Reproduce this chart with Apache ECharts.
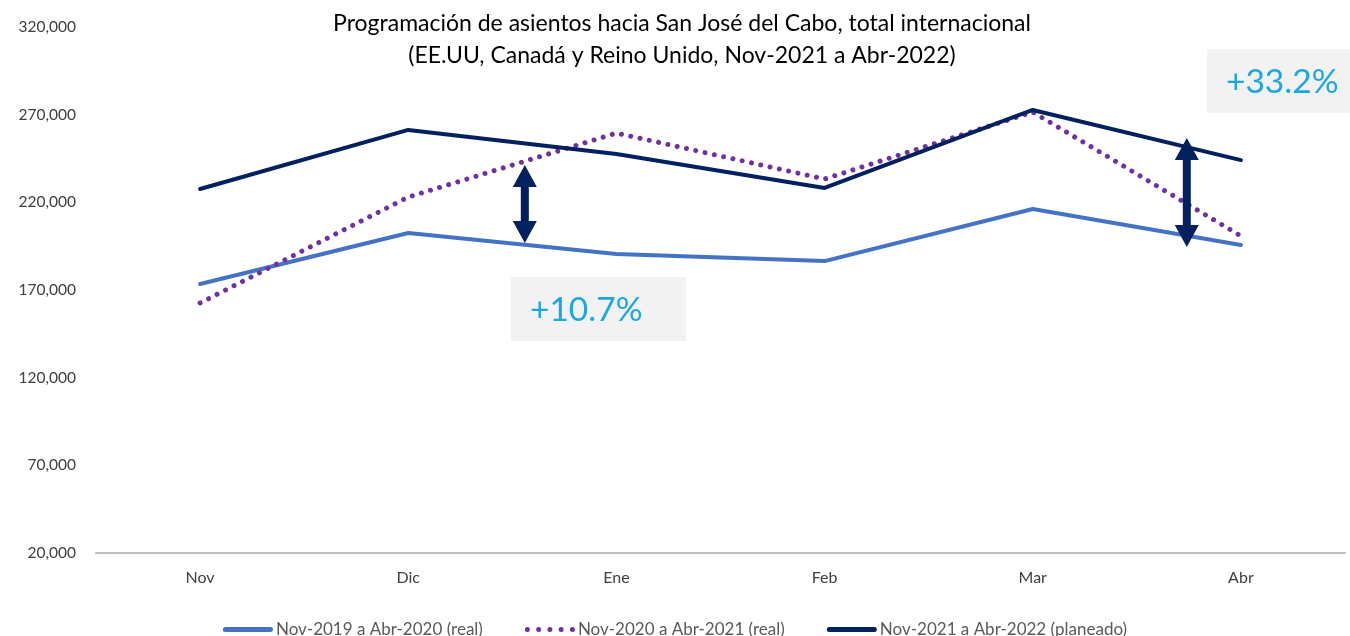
<!DOCTYPE html>
<html>
<head>
<meta charset="utf-8">
<script src="https://cdn.jsdelivr.net/npm/echarts@6/dist/echarts.min.js"></script>
<style>
html,body{margin:0;padding:0;background:#fff;}
#chart{width:1350px;height:636px;}
</style>
</head>
<body>
<div id="chart"></div>
<script>
// Months of the season
const months = ['Nov', 'Dic', 'Ene', 'Feb', 'Mar', 'Abr'];

// Seat programming per month for each season
const season2019 = [173400, 202500, 190500, 186500, 216200, 195700];
const season2020 = [162600, 223000, 259500, 233300, 271500, 200800];
const season2021 = [227600, 261300, 247600, 228200, 272700, 244100];

const seriesNames = [
  'Nov-2019 a Abr-2020 (real)',
  'Nov-2020 a Abr-2021 (real)',
  'Nov-2021 a Abr-2022 (planeado)'
];

// Growth callouts: position along the category axis (fractional index),
// arrow ends in seat values, and the label shown
const callouts = [
  { at: 1.56, top: 241300, bottom: 196800, label: '+10.7%' },
  { at: 4.74, top: 256700, bottom: 194500, label: '+33.2%' }
];

const FONT = 'Lato, "Open Sans", sans-serif';

// legend glyphs: a thick bar and a row of round dots
const BAR_ICON = 'path://M2.5,0 L47.5,0 A2.5,2.5 0 0,1 47.5,5 L2.5,5 A2.5,2.5 0 0,1 2.5,0 Z';
let dots = '';
for (let k = 0; k < 5; k++) {
  const cx = 2.5 + k * 11.25;
  dots += `M${cx},0 A2.5,2.5 0 1,1 ${cx},5 A2.5,2.5 0 1,1 ${cx},0 Z `;
}
const DOT_ICON = 'path://' + dots.trim();

const chart = echarts.init(document.getElementById('chart'));

chart.setOption({
  backgroundColor: '#ffffff',
  animation: false,
  title: {
    text: 'Programación de asientos hacia San José del Cabo, total internacional\n(EE.UU, Canadá y Reino Unido, Nov-2021 a Abr-2022)',
    left: 677,
    textAlign: 'center',
    top: 3,
    textStyle: {
      fontFamily: FONT,
      fontSize: 23,
      fontWeight: 'normal',
      color: '#000000',
      lineHeight: 32
    }
  },
  legend: {
    bottom: -7,
    left: 'center',
    itemWidth: 50,
    itemHeight: 5,
    itemGap: 42,
    textStyle: { fontFamily: FONT, fontSize: 17, color: '#595959', padding: [0, 0, 0, -2] },
    data: [
      { name: seriesNames[0], icon: BAR_ICON },
      { name: seriesNames[1], icon: DOT_ICON },
      { name: seriesNames[2], icon: BAR_ICON }
    ]
  },
  grid: { left: 96, right: 5, top: 27, bottom: 83 },
  xAxis: {
    type: 'category',
    data: months,
    boundaryGap: true,
    axisLine: { lineStyle: { color: '#bfbfbf', width: 2 } },
    axisTick: { show: false },
    axisLabel: { fontFamily: FONT, fontSize: 16, color: '#404040', margin: 17 }
  },
  yAxis: {
    type: 'value',
    min: 20000,
    max: 320000,
    interval: 50000,
    axisLine: { show: false },
    axisTick: { show: false },
    splitLine: { show: false },
    axisLabel: {
      fontFamily: FONT,
      fontSize: 15.5,
      color: '#404040',
      margin: 20,
      formatter: v => v.toLocaleString('en-US')
    }
  },
  series: [
    {
      name: seriesNames[0],
      type: 'line',
      data: season2019,
      symbol: 'none',
      color: '#4472c4',
      lineStyle: { width: 4, color: '#4472c4', cap: 'round' },
      z: 2
    },
    {
      name: seriesNames[1],
      type: 'line',
      data: season2020,
      symbol: 'none',
      color: '#7030a0',
      lineStyle: { width: 5, color: '#7030a0', type: [0.01, 9.5], cap: 'round' },
      z: 3
    },
    {
      name: seriesNames[2],
      type: 'line',
      data: season2021,
      symbol: 'none',
      color: '#002060',
      lineStyle: { width: 4, color: '#002060', cap: 'round' },
      z: 4
    }
  ]
});

// Double-headed arrows and percentage boxes, placed through the chart's own scales
function drawCallouts() {
  const px = (i, v) => chart.convertToPixel({ xAxisIndex: 0, yAxisIndex: 0 }, [i, v]);
  const elements = [];
  callouts.forEach((c) => {
    const i0 = Math.floor(c.at), f = c.at - i0;
    const a = px(i0, c.top), b = px(i0 + 1, c.top);
    const x = a[0] + (b[0] - a[0]) * f;
    const yTop = px(i0, c.top)[1];
    const yBot = px(i0, c.bottom)[1];
    const head = 22, hw = 12, sw = 4;
    elements.push({
      type: 'polygon',
      z: 100,
      shape: {
        points: [
          [x, yTop], [x + hw, yTop + head], [x + sw, yTop + head],
          [x + sw, yBot - head], [x + hw, yBot - head], [x, yBot],
          [x - hw, yBot - head], [x - sw, yBot - head], [x - sw, yTop + head],
          [x - hw, yTop + head]
        ]
      },
      style: { fill: '#002060' }
    });
  });
  // boxes for the callout labels
  const boxes = [
    { x: 511, y: 277, w: 175, h: 64 },
    { x: 1207, y: 49, w: 143, h: 64 }
  ];
  boxes.forEach((bx, k) => {
    elements.push({
      type: 'group',
      z: 100,
      children: [
        { type: 'rect', shape: { x: bx.x, y: bx.y, width: bx.w, height: bx.h }, style: { fill: '#f2f2f2' } },
        {
          type: 'text',
          style: {
            x: bx.x + 19, y: bx.y + bx.h / 2 + 1,
            text: callouts[k].label,
            fill: '#1aa7e1',
            fontFamily: FONT,
            fontSize: 33.5,
            verticalAlign: 'middle',
            align: 'left'
          }
        }
      ]
    });
  });
  chart.setOption({ graphic: { elements } });
}
drawCallouts();
</script>
</body>
</html>
